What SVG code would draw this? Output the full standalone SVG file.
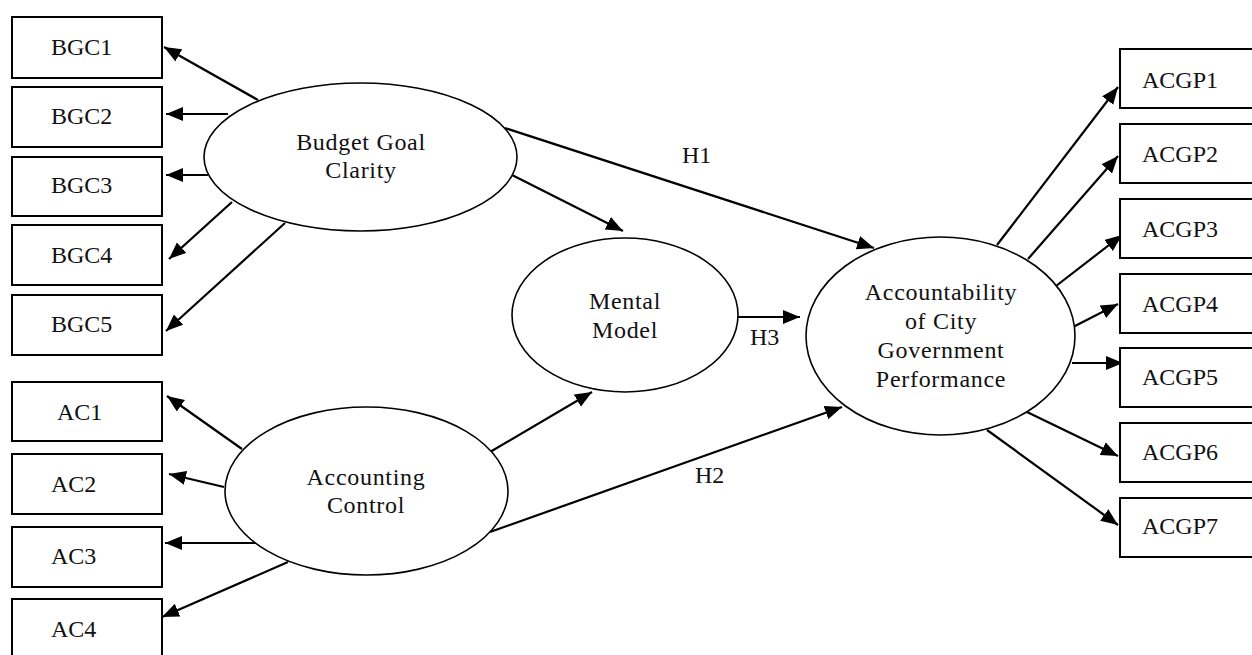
<svg xmlns="http://www.w3.org/2000/svg" width="1252" height="655" viewBox="0 0 1252 655">
<style>
text{font-family:"Liberation Serif","Times New Roman",serif;font-size:24px;fill:#111}
.box{fill:#fff;stroke:#000;stroke-width:2}
.ell{fill:#fff;stroke:#000;stroke-width:1.6}
.c line{stroke:#000;stroke-width:2.2;marker-end:url(#ah)}
.m{text-anchor:middle;letter-spacing:0.7px}
</style>
<defs>
<marker id="ah" markerUnits="userSpaceOnUse" markerWidth="18" markerHeight="15" refX="17" refY="7" orient="auto"><path d="M0,0 L17,7 L0,14 z" fill="#000"/></marker>
</defs>
<g id="connectors" class="c">
<line x1="258" y1="100" x2="164" y2="47"/>
<line x1="228" y1="114" x2="166" y2="114"/>
<line x1="208" y1="175" x2="166" y2="175"/>
<line x1="232" y1="202" x2="169" y2="259"/>
<line x1="285" y1="223" x2="166" y2="331"/>
<line x1="242" y1="449" x2="167" y2="396"/>
<line x1="224" y1="487" x2="169" y2="474"/>
<line x1="257" y1="543" x2="165" y2="543"/>
<line x1="288" y1="562" x2="162" y2="617"/>
<line x1="997" y1="245" x2="1118" y2="87"/>
<line x1="1028" y1="259" x2="1118" y2="156"/>
<line x1="1056" y1="286" x2="1122" y2="235"/>
<line x1="1073" y1="327" x2="1118" y2="304"/>
<line x1="1072" y1="363" x2="1123" y2="363"/>
<line x1="1027" y1="412" x2="1118" y2="456"/>
<line x1="987" y1="430" x2="1118" y2="525"/>
<line x1="512" y1="175" x2="623" y2="231"/>
<line x1="505" y1="128" x2="874" y2="248"/>
<line x1="490" y1="452" x2="592" y2="392"/>
<line x1="490" y1="532" x2="842" y2="407"/>
<line x1="738" y1="317" x2="800" y2="317"/>
</g>
<g id="labels">
<text x="682" y="163">H1</text>
<text x="695" y="483">H2</text>
<text x="750" y="345">H3</text>
</g>
<g id="BGC1"><rect class="box" x="12" y="17" width="150" height="61"/><text x="51" y="55">BGC1</text></g>
<g id="BGC2"><rect class="box" x="12" y="87" width="150" height="60"/><text x="51" y="124">BGC2</text></g>
<g id="BGC3"><rect class="box" x="12" y="157" width="150" height="59"/><text x="51" y="193">BGC3</text></g>
<g id="BGC4"><rect class="box" x="12" y="225" width="150" height="60"/><text x="51" y="263">BGC4</text></g>
<g id="BGC5"><rect class="box" x="12" y="295" width="150" height="60"/><text x="51" y="332">BGC5</text></g>
<g id="AC1"><rect class="box" x="12" y="382" width="150" height="59"/><text x="57" y="420">AC1</text></g>
<g id="AC2"><rect class="box" x="12" y="454" width="150" height="60"/><text x="51" y="492">AC2</text></g>
<g id="AC3"><rect class="box" x="12" y="527" width="150" height="60"/><text x="51" y="564">AC3</text></g>
<g id="AC4"><rect class="box" x="12" y="599" width="150" height="62"/><text x="51" y="637">AC4</text></g>
<g id="ACGP1"><rect class="box" x="1120" y="49" width="145" height="59"/><text x="1142" y="88">ACGP1</text></g>
<g id="ACGP2"><rect class="box" x="1120" y="124" width="145" height="59"/><text x="1142" y="162">ACGP2</text></g>
<g id="ACGP3"><rect class="box" x="1120" y="199" width="145" height="59"/><text x="1142" y="237">ACGP3</text></g>
<g id="ACGP4"><rect class="box" x="1120" y="274" width="145" height="59"/><text x="1142" y="312">ACGP4</text></g>
<g id="ACGP5"><rect class="box" x="1120" y="348" width="145" height="59"/><text x="1142" y="385">ACGP5</text></g>
<g id="ACGP6"><rect class="box" x="1120" y="423" width="145" height="59"/><text x="1142" y="460">ACGP6</text></g>
<g id="ACGP7"><rect class="box" x="1120" y="498" width="145" height="59"/><text x="1142" y="534">ACGP7</text></g>
<g id="BudgetGoalClarity"><ellipse class="ell" cx="360.5" cy="157" rx="156.5" ry="74"/><text class="m" x="361" y="150">Budget Goal</text><text class="m" x="361" y="178">Clarity</text></g>
<g id="AccountingControl"><ellipse class="ell" cx="366.5" cy="491" rx="141.5" ry="84"/><text class="m" x="366" y="485">Accounting</text><text class="m" x="366" y="513">Control</text></g>
<g id="MentalModel"><ellipse class="ell" cx="625" cy="315" rx="113" ry="77"/><text class="m" x="625" y="309">Mental</text><text class="m" x="625" y="338">Model</text></g>
<g id="ACGP"><ellipse class="ell" cx="940.5" cy="336" rx="134.5" ry="99"/><text class="m" x="941" y="300">Accountability</text><text class="m" x="941" y="329">of City</text><text class="m" x="941" y="358">Government</text><text class="m" x="941" y="387">Performance</text></g>
</svg>
